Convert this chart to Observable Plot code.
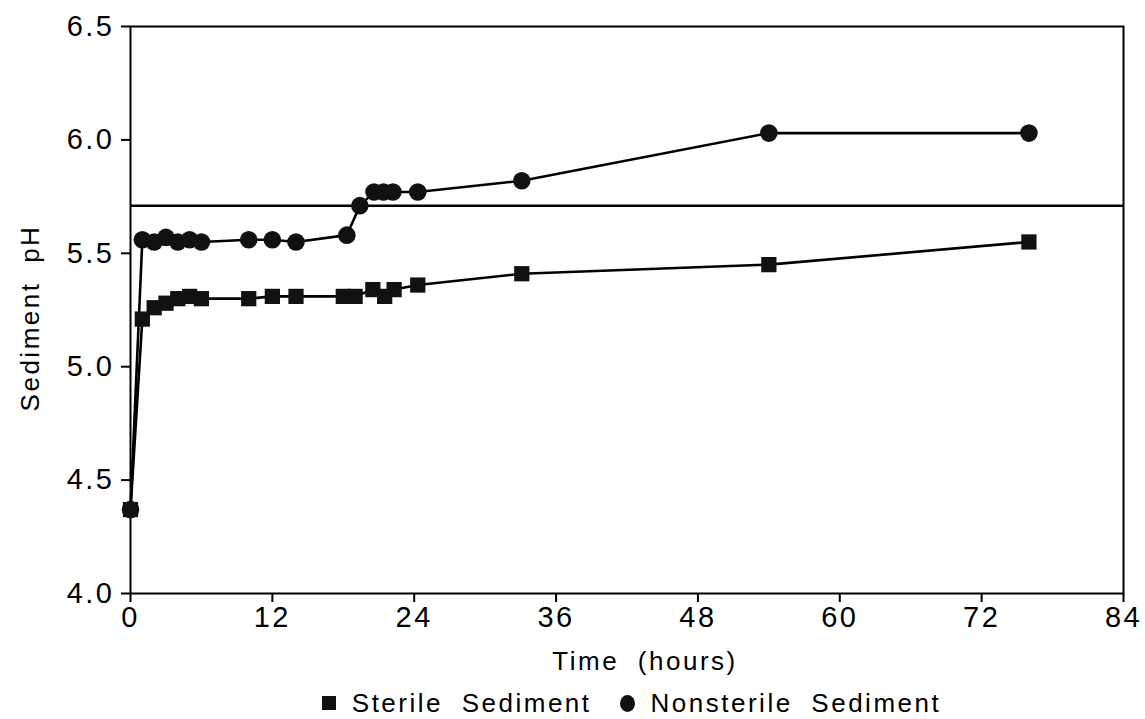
<!DOCTYPE html>
<html>
<head>
<meta charset="utf-8">
<script src="https://cdn.jsdelivr.net/npm/d3@7"></script>
<script src="https://cdn.jsdelivr.net/npm/@observablehq/plot@0.6"></script>
<style>
  html, body { margin: 0; padding: 0; background: #fff; }
  body { width: 1145px; height: 719px; overflow: hidden; font-family: "Liberation Sans", Arial, sans-serif; }
  #chart svg { display: block; }
  #legend { position: absolute; left: 0; top: 684px; width: 1145px; height: 38px; display: flex; justify-content: center; align-items: center; font-size: 26px; letter-spacing: 2.5px; word-spacing: 9px; color: #000; box-sizing: border-box; padding-left: 118px; }
  #legend .item { display: flex; align-items: center; margin: 0 14px; }
  #legend .sym { display: inline-block; background: #111; margin-right: 16px; }
</style>
</head>
<body>
<div id="chart"></div>
<div id="legend"></div>
<script>
// ---- data ----
const seriesNames = ["Sterile Sediment", "Nonsterile Sediment"];
const sterileHours = [0, 1, 2, 3, 4, 5, 6, 10, 12, 14, 18, 19, 20.5, 21.5, 22.3, 24.3, 33.1, 54, 76];
const sterilePH    = [4.37, 5.21, 5.26, 5.28, 5.30, 5.31, 5.30, 5.30, 5.31, 5.31, 5.31, 5.31, 5.34, 5.31, 5.34, 5.36, 5.41, 5.45, 5.55];
const nonsterileHours = [0, 1, 2, 3, 4, 5, 6, 10, 12, 14, 18.3, 19.4, 20.6, 21.4, 22.2, 24.3, 33.1, 54, 76];
const nonsterilePH    = [4.37, 5.56, 5.55, 5.57, 5.55, 5.56, 5.55, 5.56, 5.56, 5.55, 5.58, 5.71, 5.77, 5.77, 5.77, 5.77, 5.82, 6.03, 6.03];
const referencePH = 5.71;
const xTicks = [0, 12, 24, 36, 48, 60, 72, 84];
const yTicks = [4.0, 4.5, 5.0, 5.5, 6.0, 6.5];
const xDomain = [0, 84];
const yDomain = [4.0, 6.5];
const xTitle = "Time (hours)";
const yTitle = "Sediment pH";

const sterile = sterileHours.map((h, i) => ({hours: h, ph: sterilePH[i], series: seriesNames[0]}));
const nonsterile = nonsterileHours.map((h, i) => ({hours: h, ph: nonsterilePH[i], series: seriesNames[1]}));

const chart = Plot.plot({
  width: 1145,
  height: 682,
  marginLeft: 130,
  marginRight: 22,
  marginTop: 26,
  marginBottom: 89,
  style: {fontFamily: "Liberation Sans, Arial, sans-serif", fontSize: "29px", color: "#000", background: "#fff"},
  x: {domain: xDomain},
  y: {domain: yDomain},
  marks: [
    Plot.frame({stroke: "#000", strokeWidth: 2}),
    Plot.ruleY([referencePH], {stroke: "#000", strokeWidth: 2.5}),
    Plot.line(sterile, {x: "hours", y: "ph", stroke: "#000", strokeWidth: 2.6}),
    Plot.line(nonsterile, {x: "hours", y: "ph", stroke: "#000", strokeWidth: 2.6}),
    Plot.dot(sterile, {x: "hours", y: "ph", symbol: "square", r: 8.6, fill: "#111", stroke: "none"}),
    Plot.dot(nonsterile, {x: "hours", y: "ph", symbol: "circle", r: 8.8, fill: "#111", stroke: "none"}),
    Plot.axisX({ticks: xTicks, tickSize: 9, tickPadding: 4, tickFormat: d => String(d), strokeWidth: 2,
      label: null, fontSize: 29}),
    Plot.axisY({ticks: yTicks, tickSize: 9, tickPadding: 7, tickFormat: d => d.toFixed(1), strokeWidth: 2,
      label: null, fontSize: 29}),
    Plot.text([xTitle], {frameAnchor: "bottom", dx: 18, dy: 68, text: d => d, fontSize: 26, textAnchor: "middle", lineAnchor: "middle"}),
    Plot.text([yTitle], {frameAnchor: "left", dx: -100, dy: 8, rotate: -90, text: d => d, fontSize: 26, textAnchor: "middle", lineAnchor: "middle"})
  ]
});
chart.querySelectorAll("text").forEach(t => { t.style.letterSpacing = "2.5px"; t.style.wordSpacing = "9px"; });
document.getElementById("chart").appendChild(chart);

const legend = document.getElementById("legend");
seriesNames.forEach((name, i) => {
  const item = document.createElement("span");
  item.className = "item";
  const sym = document.createElement("span");
  sym.className = "sym";
  if (i === 0) { sym.style.width = "14px"; sym.style.height = "14px"; }
  else { sym.style.width = "15px"; sym.style.height = "17px"; sym.style.borderRadius = "50%"; }
  item.appendChild(sym);
  item.appendChild(document.createTextNode(name));
  legend.appendChild(item);
});
</script>
</body>
</html>
